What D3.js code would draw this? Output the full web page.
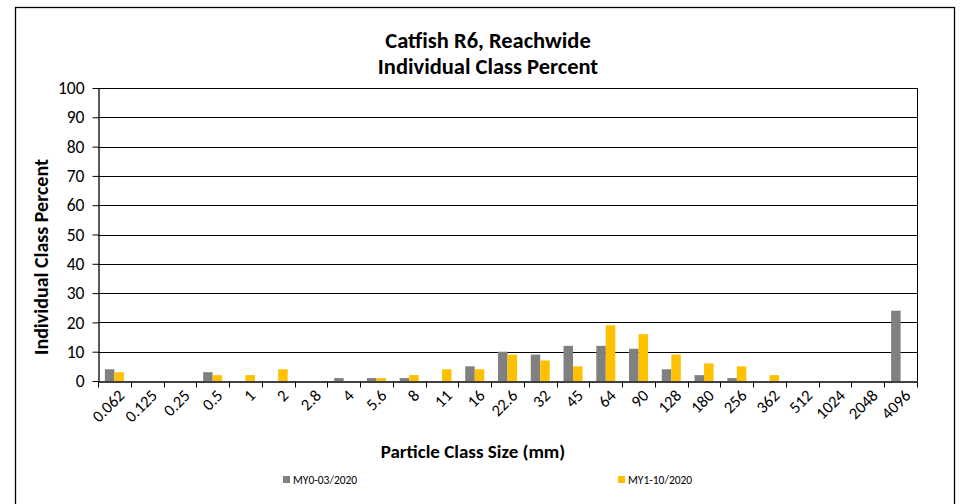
<!DOCTYPE html>
<head>
    <meta charset="utf-8">
    <title>Catfish R6, Reachwide</title>
    <style>
        html, body {
            margin: 0;
            background: #fff;
        }

        svg text {
            font-family: Carlito, Lato, "Open Sans", sans-serif;
            fill: #000;
        }
    </style>
</head>
<body>
<script src="https://cdn.jsdelivr.net/npm/d3@7"></script>
<script>

    const classSizes = ["0.062", "0.125", "0.25", "0.5", "1", "2", "2.8", "4", "5.6", "8", "11", "16", "22.6",
        "32", "45", "64", "90", "128", "180", "256", "362", "512", "1024", "2048", "4096"];
    const seriesNames = ["MY0-03/2020", "MY1-10/2020"];
    const my0 = [4, 0, 0, 3, 0, 0, 0, 1, 1, 1, 0, 5, 10, 9, 12, 12, 11, 4, 2, 1, 0, 0, 0, 0, 24];
    const my1 = [3, 0, 0, 2, 2, 4, 0, 0, 1, 2, 4, 4, 9, 7, 5, 19, 16, 9, 6, 5, 2, 0, 0, 0, 0];
    const yTicks = [0, 10, 20, 30, 40, 50, 60, 70, 80, 90, 100];
    const colors = ["#808080", "#FFC000"];

    const width = 962, height = 504;
    const margin = {left: 98, right: 45, top: 88, bottom: 123};

    const svg = d3.select("body").append("svg")
        .attr("width", width)
        .attr("height", height);

    // outer chart border
    svg.append("rect")
        .attr("x", 15.5).attr("y", 7.5)
        .attr("width", 939).attr("height", 510)
        .attr("fill", "none")
        .attr("stroke", "#000")
        .attr("stroke-width", 1.3);

    const x0 = d3.scaleBand()
        .domain(classSizes)
        .range([margin.left, width - margin.right])
        .paddingInner(0.42)
        .paddingOuter(0.21);

    const x1 = d3.scaleBand()
        .domain(seriesNames)
        .range([0, x0.bandwidth()]);

    const y = d3.scaleLinear()
        .domain([0, 100])
        .range([height - margin.bottom, margin.top]);

    const plotLeft = margin.left, plotRight = width - margin.right;

    // gridlines
    svg.append("g")
        .selectAll("line")
        .data(yTicks.filter(d => d > 0))
        .enter().append("line")
        .attr("x1", plotLeft).attr("x2", plotRight)
        .attr("y1", d => Math.round(y(d)) + 0.5).attr("y2", d => Math.round(y(d)) + 0.5)
        .attr("stroke", "#000")
        .attr("stroke-width", 1);

    // right edge of plot area
    svg.append("line")
        .attr("x1", plotRight + 0.5).attr("x2", plotRight + 0.5)
        .attr("y1", y(100)).attr("y2", y(0))
        .attr("stroke", "#000");

    // bars
    const rows = classSizes.map((c, i) => ({c: c, vals: [my0[i], my1[i]]}));
    svg.append("g")
        .selectAll("g")
        .data(rows)
        .enter().append("g")
        .attr("transform", d => `translate(${x0(d.c)},0)`)
        .selectAll("rect")
        .data(d => d.vals.map((v, k) => ({name: seriesNames[k], v: v, k: k})))
        .enter().append("rect")
        .attr("x", d => x1(d.name))
        .attr("width", x1.bandwidth())
        .attr("y", d => y(d.v))
        .attr("height", d => y(0) - y(d.v))
        .attr("fill", d => colors[d.k]);

    // x axis
    const xAxis = svg.append("g")
        .attr("transform", `translate(0,${Math.round(y(0)) + 0.5})`)
        .call(d3.axisBottom(x0).tickSize(0).tickSizeOuter(0));
    xAxis.select(".domain").attr("stroke", "#000").attr("stroke-width", 1.3);
    // category boundary ticks
    const bounds = d3.range(classSizes.length + 1).map(i => plotLeft + i * x0.step());
    xAxis.selectAll(".bound")
        .data(bounds)
        .enter().append("line")
        .attr("class", "bound")
        .attr("x1", d => Math.round(d) + 0.5).attr("x2", d => Math.round(d) + 0.5)
        .attr("y1", 0).attr("y2", 6)
        .attr("stroke", "#000");
    xAxis.selectAll(".tick text")
        .attr("font-size", 16.5)
        .attr("text-anchor", "end")
        .attr("dy", 0)
        .attr("transform", "translate(9,13) rotate(-45)");

    // y axis
    const yAxis = svg.append("g")
        .attr("transform", `translate(${plotLeft + 0.5},0)`)
        .call(d3.axisLeft(y).tickValues(yTicks).tickSize(6).tickSizeOuter(0).tickPadding(8));
    yAxis.select(".domain").attr("stroke", "#000").attr("stroke-width", 1.3);
    yAxis.selectAll(".tick line").attr("stroke", "#000");
    yAxis.selectAll(".tick text").attr("font-size", 17.5);

    // titles
    svg.append("text")
        .attr("x", 488).attr("y", 48)
        .attr("text-anchor", "middle")
        .attr("font-size", 22.5).attr("font-weight", "bold")
        .text("Catfish R6, Reachwide");
    svg.append("text")
        .attr("x", 488).attr("y", 74)
        .attr("text-anchor", "middle")
        .attr("font-size", 22.5).attr("font-weight", "bold")
        .text("Individual Class Percent");

    svg.append("text")
        .attr("x", 473).attr("y", 458)
        .attr("text-anchor", "middle")
        .attr("font-size", 19).attr("font-weight", "bold")
        .text("Particle Class Size (mm)");

    svg.append("text")
        .attr("transform", "translate(48,257) rotate(-90)")
        .attr("text-anchor", "middle")
        .attr("font-size", 20).attr("font-weight", "bold")
        .text("Individual Class Percent");

    // legend
    const legendX = [283, 618];
    const legend = svg.append("g")
        .selectAll("g")
        .data(seriesNames)
        .enter().append("g")
        .attr("transform", (d, i) => `translate(${legendX[i]},476)`);
    legend.append("rect")
        .attr("width", 7).attr("height", 7)
        .attr("fill", (d, i) => colors[i]);
    legend.append("text")
        .attr("x", 10).attr("y", 7.5)
        .attr("font-size", 11.5)
        .text(d => d);

</script>
</body>
